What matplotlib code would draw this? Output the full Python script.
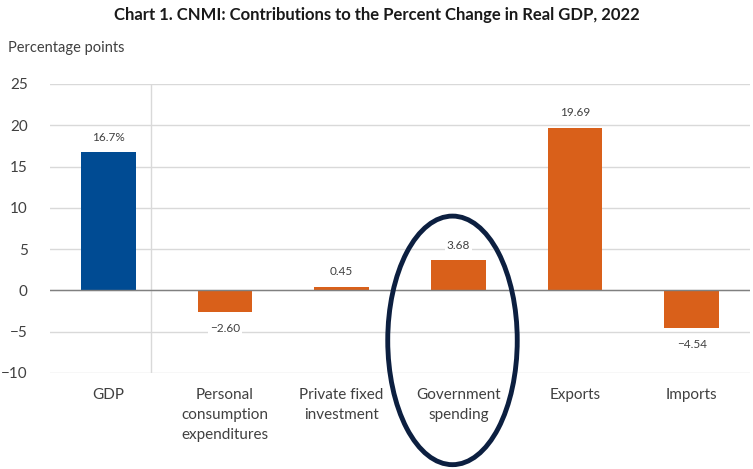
import matplotlib
matplotlib.use("Agg")
import matplotlib.pyplot as plt
from matplotlib.patches import Ellipse

plt.rcParams["font.family"] = ["Lato", "DejaVu Sans"]

categories = ["GDP", "Personal\nconsumption\nexpenditures", "Private fixed\ninvestment",
              "Government\nspending", "Exports", "Imports"]
values = [16.7, -2.60, 0.45, 3.68, 19.69, -4.54]
value_labels = ["16.7%", "\u22122.60", "0.45", "3.68", "19.69", "\u22124.54"]
yticks = [25, 20, 15, 10, 5, 0, -5, -10]

blue = "#004b93"
orange = "#d9601a"
colors = [blue] + [orange] * (len(values) - 1)

fig = plt.figure(figsize=(7.53, 4.69), dpi=100)
ax = fig.add_axes([0.0664, 0.2047, 0.9296, 0.6163])

x = list(range(len(categories)))
ax.bar(x, values, width=0.47, color=colors, zorder=3)

ax.set_xlim(-0.5, len(categories) - 0.5)
ax.set_ylim(-10, 25)
ax.set_yticks(yticks)
ax.set_yticklabels([str(t).replace("-", "\u2212") for t in yticks])
ax.grid(axis="y", color="#d9d9d9", linewidth=1, zorder=0)
ax.axhline(0, color="#808080", linewidth=1, zorder=4)
ax.axvline(0.37, color="#d9d9d9", linewidth=1, zorder=1)

for spine in ax.spines.values():
    spine.set_visible(False)
ax.tick_params(axis="both", length=0, labelsize=11, colors="#404040")
ax.tick_params(axis="y", pad=16)
ax.tick_params(axis="x", pad=11)
ax.set_xticks(x)
ax.set_xticklabels(categories, va="top", linespacing=1.55)

for xi, v, lab in zip(x, values, value_labels):
    off = 15 if v >= 0 else -17
    ax.annotate(lab, (xi, v), xytext=(0, off), textcoords="offset pixels",
                ha="center", va="center", fontsize=8.5, color="#404040", zorder=5,
                bbox=dict(facecolor="white", edgecolor="none", pad=1.5))

ell = Ellipse((2.95, -6.05), 1.11, 30.1, fill=False, edgecolor="#0c1f40",
              linewidth=3.5, clip_on=False, zorder=6)
ax.add_patch(ell)

fig.text(0.5, 0.968, "Chart 1. CNMI: Contributions to the Percent Change in Real GDP, 2022",
         ha="center", va="center", fontsize=12, fontweight="bold", color="#1a1a1a")
fig.text(0.011, 0.897, "Percentage points", ha="left", va="center", fontsize=10.5, color="#404040")

fig.savefig("out.png", dpi=100)
